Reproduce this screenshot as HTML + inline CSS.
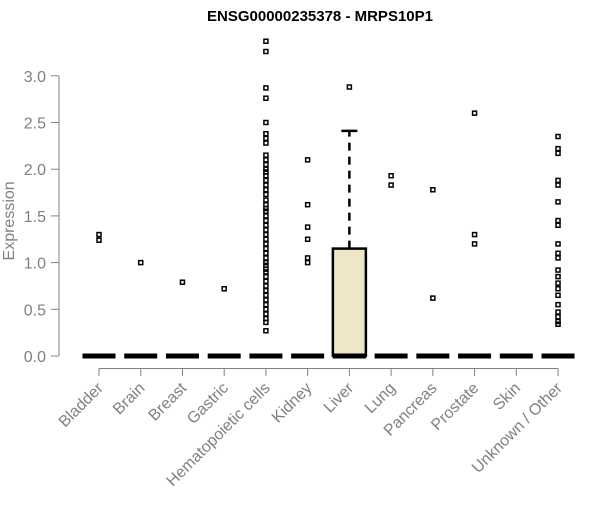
<!DOCTYPE html>
<html><head><meta charset="utf-8"><style>
body{margin:0;background:#fff;}
svg text{font-family:"Liberation Sans",Arial,sans-serif;}
</style></head><body>
<svg id="chart" width="600" height="500" xmlns="http://www.w3.org/2000/svg"></svg>
<script>
const categories=["Bladder","Brain","Breast","Gastric","Hematopoietic cells","Kidney","Liver","Lung","Pancreas","Prostate","Skin","Unknown / Other"];
const q1=[0,0,0,0,0,0,0,0,0,0,0,0];
const medians=[0,0,0,0,0,0,0,0,0,0,0,0];
const q3=[0,0,0,0,0,0,1.15,0,0,0,0,0];
const whiskerHigh=[0,0,0,0,0,0,2.41,0,0,0,0,0];
const outliers=[
[1.3,1.24],[1.0],[0.79],[0.72],
[3.37,3.26,2.87,2.76,2.5,2.38,2.33,2.28,2.15,2.1,2.05,2.0,1.97,1.93,1.88,1.83,1.78,1.73,1.67,1.62,1.58,1.55,1.5,1.45,1.4,1.35,1.3,1.25,1.2,1.15,1.1,1.05,1.0,0.97,0.93,0.9,0.85,0.8,0.75,0.7,0.65,0.6,0.55,0.5,0.45,0.4,0.36,0.27],
[2.1,1.62,1.38,1.25,1.05,1.0],[2.88],[1.93,1.83],[1.78,0.62],[2.6,1.3,1.2],[],
[2.35,2.22,2.17,1.88,1.83,1.65,1.45,1.4,1.2,1.1,1.05,0.92,0.85,0.78,0.72,0.65,0.55,0.47,0.42,0.37,0.34]];
const yTicks=[0,0.5,1,1.5,2,2.5,3];
const yTickLabels=["0.0","0.5","1.0","1.5","2.0","2.5","3.0"];

const svg=document.getElementById('chart');
const NS="http://www.w3.org/2000/svg";
const y=v=>356-v*93.4;
const x=i=>99+i*41.73;
function mk(tag,attrs,parent){const e=document.createElementNS(NS,tag);for(const k in attrs)e.setAttribute(k,attrs[k]);(parent||svg).appendChild(e);return e;}

let t=mk('text',{x:320,y:21,'text-anchor':'middle','font-size':15,'font-weight':'bold',fill:'#000'});


t.textContent="ENSG00000235378 - MRPS10P1";

let ya=mk('g',{});


mk('line',{x1:59,x2:59,y1:y(0),y2:y(3),stroke:'#808080','stroke-width':1},ya);
yTicks.forEach((v,i)=>{
  mk('line',{x1:51,x2:59,y1:y(v),y2:y(v),stroke:'#808080'},ya);
  const tl=mk('text',{x:46,y:y(v)+6,'text-anchor':'end','font-size':16,fill:'#808080'},ya);
  
  
  tl.textContent=yTickLabels[i];
});
let yt=mk('text',{x:14,y:y(1.5)+5,'text-anchor':'middle','font-size':16,fill:'#808080',transform:`rotate(-90 14 ${y(1.5)+5})`});


yt.textContent="Expression";

let xa=mk('g',{});


mk('line',{x1:x(0),x2:x(11),y1:368.5,y2:368.5,stroke:'#808080'},xa);
categories.forEach((c,i)=>{
  mk('line',{x1:x(i),x2:x(i),y1:368.5,y2:376,stroke:'#808080'},xa);
  const lx=x(i)+5,ly=389;
  const tl=mk('text',{x:lx,y:ly,'text-anchor':'end','font-size':16,fill:'#808080',transform:`rotate(-45 ${lx} ${ly})`},xa);
  
  
  tl.textContent=c;
});

categories.forEach((c,i)=>{
  const g=mk('g',{});
  
  
  const cx=x(i),hw=16.5;
  if(whiskerHigh[i]>q3[i]){
    mk('line',{x1:cx,x2:cx,y1:y(q3[i]),y2:y(whiskerHigh[i]),stroke:'#000','stroke-width':2.5,'stroke-dasharray':'8,6'},g);
    mk('line',{x1:cx-8,x2:cx+8,y1:y(whiskerHigh[i]),y2:y(whiskerHigh[i]),stroke:'#000','stroke-width':2.5},g);
  }
  if(q3[i]>q1[i]){
    mk('rect',{x:cx-hw,y:y(q3[i]),width:2*hw,height:y(q1[i])-y(q3[i]),fill:'#ede6c9',stroke:'#000','stroke-width':2.5},g);
  }
  mk('line',{x1:cx-hw,x2:cx+hw,y1:y(medians[i]),y2:y(medians[i]),stroke:'#000','stroke-width':5},g);
  outliers[i].forEach(v=>{
    const p=mk('rect',{x:cx-2,y:y(v)-2,width:4,height:4,fill:'none',stroke:'#000','stroke-width':1.5},g);
    
    
  });
});
</script>
</body></html>
